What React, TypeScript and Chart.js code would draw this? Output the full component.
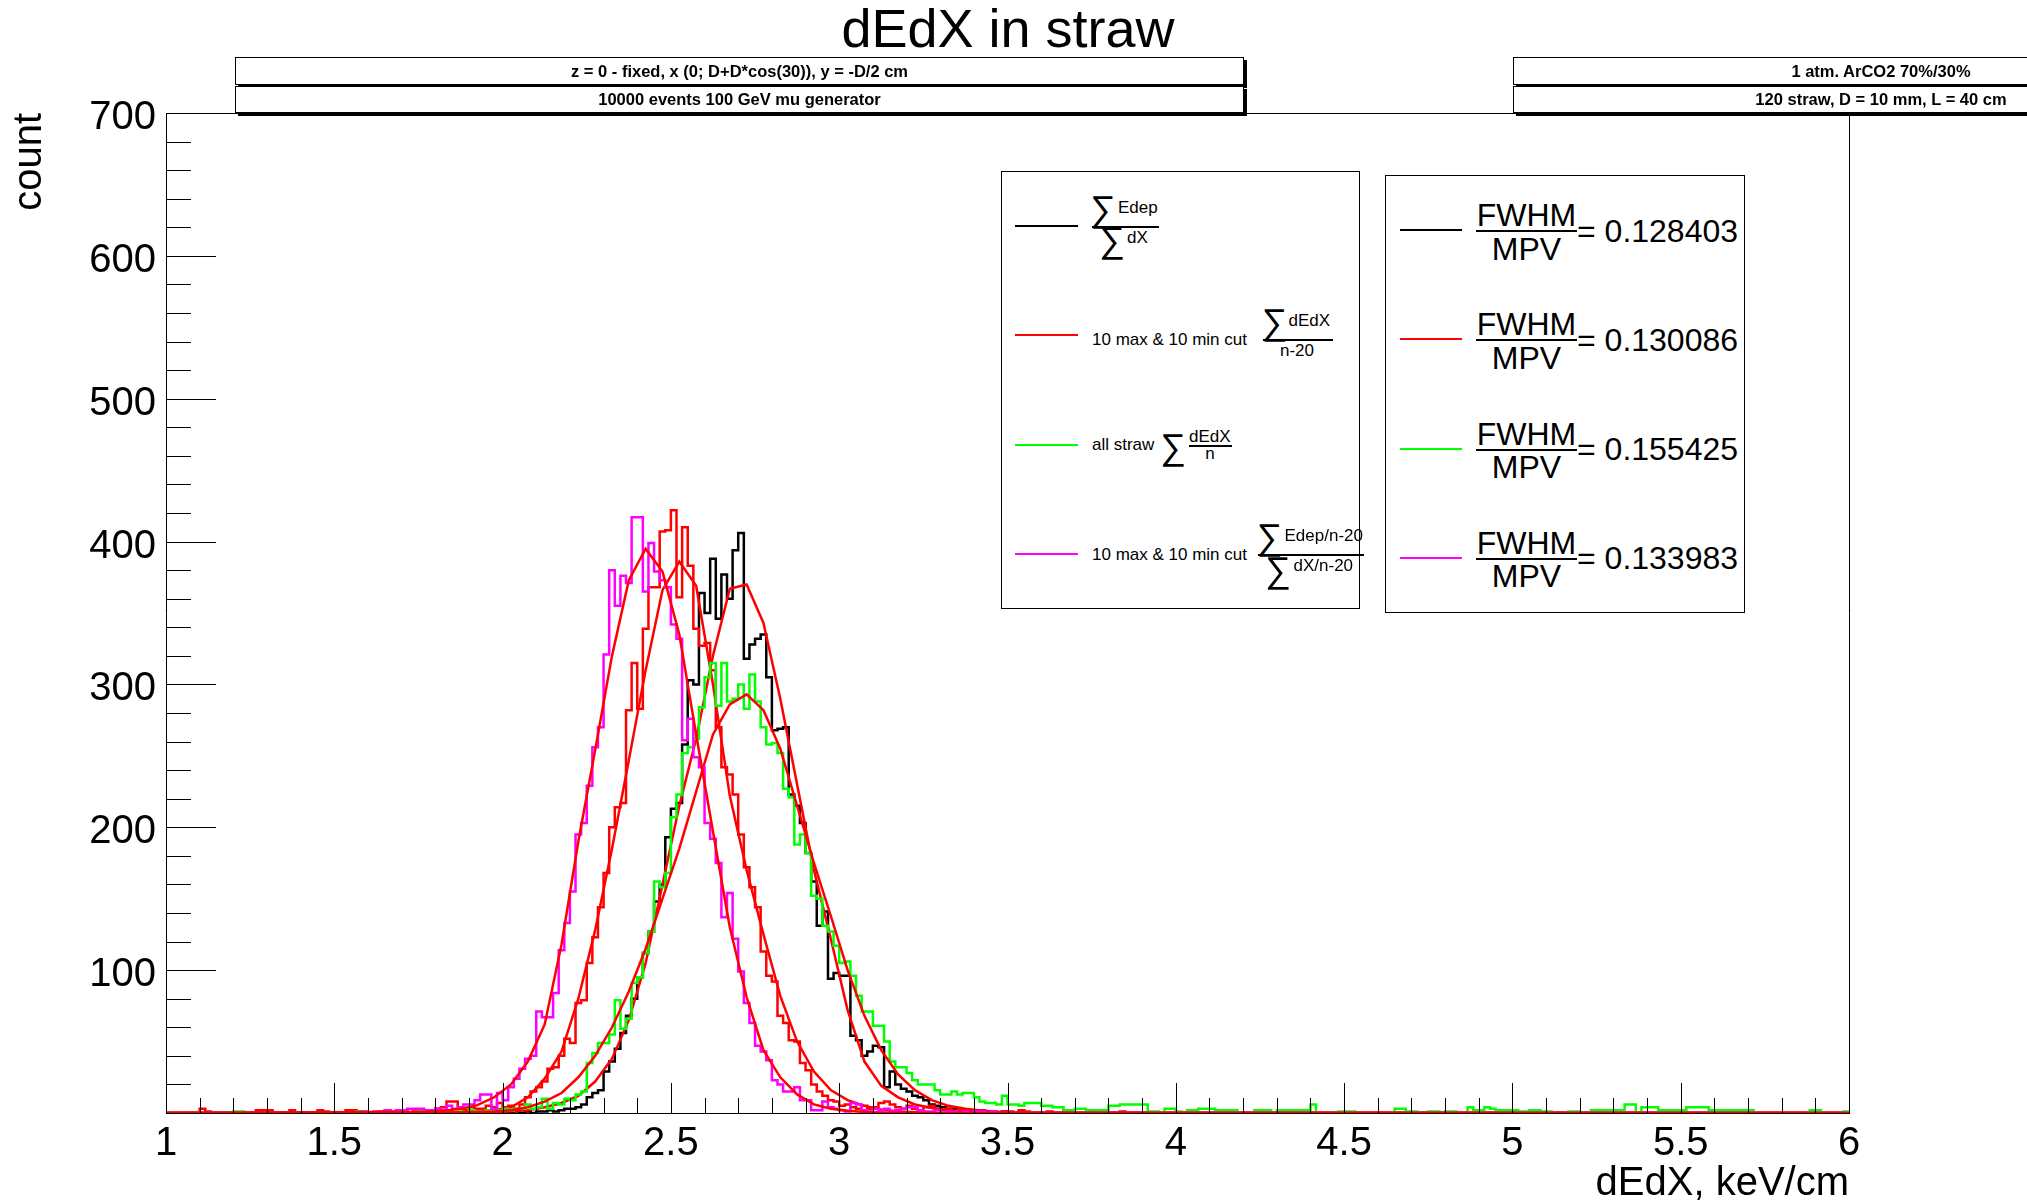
import React, { useEffect, useRef } from 'react';
import { Chart, registerables } from 'chart.js';

Chart.register(...registerables);

const FONT = "'Liberation Sans', Arial, Helvetica, sans-serif";
Chart.defaults.font.family = FONT;

// ---------- axes ----------
const X_MIN = 1;
const X_MAX = 6;
const Y_MIN = 0;
const Y_MAX = 700;
const BINS_PER_UNIT = 60; // histogram bin width = 1/60
const N_BINS = 300;

const TITLE = 'dEdX in straw';
const X_TITLE = 'dEdX, keV/cm';
const Y_TITLE = 'count';

// ---------- histograms (bin contents, first bin index given by *_START) ----------
const BLACK_START = 60;
const BLACK = [
  1, 0, 1, 0, 1, 0, 1, 1, 2, 1,
  2, 3, 3, 4, 6, 11, 14, 16, 29, 36,
  45, 56, 68, 80, 95, 112, 127, 148, 160, 193,
  213, 217, 258, 303, 300, 364, 350, 388, 346, 377,
  360, 394, 406, 318, 328, 332, 335, 305, 268, 269,
  270, 223, 215, 203, 182, 162, 131, 141, 94, 98,
  96, 96, 54, 51, 40, 43, 47, 46, 18, 29,
  20, 17, 15, 12, 11, 9, 6, 5, 4, 3,
  3, 2, 2, 1, 2, 1, 1, 1, 0, 1,
  0, 0, 1, 0, 0, 0, 0, 0, 0, 0, 2,
];

const RED_START = 5;
const RED = [
  0, 3, 1, 0, 0,
  0, 0, 0, 0, 0, 0, 2, 2, 2, 0,
  0, 0, 2, 0, 0, 0, 0, 2, 1, 0,
  0, 0, 2, 2, 1, 0, 0, 0, 1, 2,
  1, 0, 2, 0, 1, 2, 1, 2, 3, 4,
  8, 8, 3, 2, 4, 3, 3, 5, 4, 7,
  4, 5, 3, 6, 11, 15, 18, 22, 31, 32,
  40, 52, 49, 77, 79, 105, 123, 144, 168, 200,
  214, 217, 282, 315, 283, 339, 368, 368, 407, 408,
  422, 361, 410, 383, 339, 327, 329, 310, 270, 242,
  237, 223, 195, 172, 158, 144, 113, 96, 92, 68,
  63, 51, 50, 35, 30, 20, 15, 12, 9, 8,
  5, 6, 4, 3, 5, 3, 4, 7, 8, 6,
  4, 3, 5, 3, 2, 4, 5, 3, 2, 3,
  1, 2, 2, 1, 1, 2, 1, 0, 0, 1,
  1, 0, 2, 1, 0, 0, 0, 1, 0, 0,
  1, 0, 0, 0, 0, 1, 0, 0, 0, 0, 1,
];

const GREEN_START = 10;
const GREEN = [
  0, 0, 1, 1, 0, 0, 0, 0, 0, 0,
  0, 0, 0, 0, 0, 0, 0, 0, 0, 0,
  0, 0, 0, 0, 1, 0, 0, 0, 0, 0,
  0, 0, 0, 0, 0, 1, 0, 0, 1, 0,
  1, 0, 1, 0, 2, 1, 1, 2, 2, 2,
  3, 2, 3, 3, 6, 3, 4, 10, 3, 7,
  6, 10, 9, 13, 15, 35, 42, 49, 49, 55,
  79, 59, 66, 91, 95, 112, 127, 162, 158, 168,
  207, 223, 252, 256, 262, 284, 305, 315, 285, 315,
  288, 290, 300, 283, 307, 288, 270, 258, 259, 252,
  227, 221, 188, 195, 182, 152, 150, 131, 127, 117,
  105, 106, 96, 82, 71, 71, 61, 61, 50, 36,
  32, 32, 28, 23, 20, 20, 20, 16, 13, 13,
  15, 13, 14, 14, 11, 8, 7,
];
const GREEN_TAIL_START = 147;
const GREEN_TAIL = [
  7, 6, 12,
  6, 6, 5, 7, 7, 7, 5, 5, 4, 4,
  2, 2, 3, 3, 2, 2, 2, 2, 5, 5,
  6, 6, 6, 6, 6, 1, 1, 0, 3, 3,
  1, 0, 2, 2, 3, 3, 3, 2, 2, 2,
  2, 0, 0, 0, 2, 2, 2, 0, 2, 2,
  2, 2, 2, 2, 6, 0, 0, 0, 0, 1,
  1, 1, 0, 0, 0, 0, 0, 0, 0, 3,
  3, 1, 1, 0, 0, 1, 1, 0, 1, 1,
  0, 0, 4, 2, 2, 4, 3, 2, 2, 2,
  2, 1, 1, 2, 2, 1, 1, 0, 0, 0,
  1, 1, 0, 0, 2, 2, 2, 2, 2, 2,
  6, 6, 0, 4, 4, 4, 2, 2, 2, 2,
  2, 4, 4, 4, 4, 2, 2, 2, 2, 2,
  2, 2, 2, 0, 0, 0, 0, 0, 0, 0,
  0, 0, 0, 2, 2, 0, 0, 0, 0, 1,
];

const MAGENTA_START = 35;
const MAGENTA = [
  1, 0, 1, 1, 2, 1, 2,
  2, 3, 3, 3, 2, 2, 3, 2,
  5, 3, 4, 6, 6, 9, 13, 13, 3, 14,
  9, 18, 24, 31, 38, 40, 71, 67, 67, 84,
  114, 133, 155, 195, 203, 229, 256, 270, 321, 380,
  355, 376, 371, 417, 417, 365, 399, 379, 373, 368,
  342, 332, 261, 276, 249, 242, 203, 192, 175, 137,
  154, 122, 99, 77, 63, 47, 43, 37, 23, 20,
  15, 15, 18, 9, 9, 2, 2, 8, 4, 3,
  2, 1, 7, 6, 2, 1, 3, 2, 3, 1,
  2, 3, 4, 4, 2, 1, 1, 2, 0, 1,
  1, 0, 1, 0, 1, 1, 0, 1,
];

// ---------- fitted curves (sampled polyline points) ----------
const FIT_X = [
  1.0, 1.775, 1.825, 1.875, 1.925, 1.975, 2.025, 2.075, 2.125, 2.175,
  2.225, 2.275, 2.325, 2.375, 2.425, 2.475, 2.525, 2.575, 2.625, 2.675,
  2.725, 2.775, 2.825, 2.875, 2.925, 2.975, 3.025, 3.075, 3.125, 3.175,
  3.225, 3.275, 3.325, 3.375, 3.425, 3.475, 3.525, 6.0,
];
const FIT_BLACK = [
  0, 0, 0, 0.3, 0.5, 0.8, 1.2, 2, 4, 7,
  12, 22, 38, 65, 105, 160, 215, 262, 320, 367,
  370, 343, 290, 230, 170, 122, 72, 36, 19, 11,
  6, 3.5, 2, 1, 0.5, 0.2, 0, 0,
];
const FIT_RED = [
  0, 0, 0.3, 0.6, 1, 2, 4, 11, 24, 43,
  80, 128, 185, 247, 310, 366, 386, 369, 300, 222,
  170, 125, 82, 50, 29, 16, 9, 5, 2.5, 1,
  0.5, 0, 0, 0, 0, 0, 0, 0,
];
const FIT_GREEN = [
  0, 0.2, 0.3, 0.5, 0.7, 1, 2, 4, 8, 14,
  25, 40, 60, 85, 115, 150, 185, 225, 265, 286,
  293, 282, 255, 215, 175, 138, 100, 68, 44, 27,
  16, 9, 5, 3, 1.5, 0.8, 0.4, 0,
];
const FIT_MAGENTA = [
  0, 0.8, 1.5, 3, 5.5, 11, 20, 36, 62, 118,
  190, 254, 320, 373, 395, 379, 335, 265, 197, 130,
  81, 44, 25, 13, 6, 3, 1.5, 0.7, 0.3, 0,
  0, 0, 0, 0, 0, 0, 0, 0,
];

// ---------- legends / text ----------
const SERIES_COLORS = ['#000000', '#ff0000', '#00ff00', '#ff00ff'];
const FIT_COLOR = '#ff0000';
const FWHM_MPV = ['0.128403', '0.130086', '0.155425', '0.133983'];
const INFO_LEFT = ['z = 0 - fixed, x (0; D+D*cos(30)), y = -D/2 cm', '10000 events 100 GeV mu generator'];
const INFO_RIGHT = ['1 atm. ArCO2 70%/30%', '120 straw, D = 10 mm, L = 40 cm'];
const CUT_TEXT = '10 max & 10 min cut';
const SIGMA = '\u2211';

function histPoints(parts: Array<[number, number[]]>) {
  const vals: number[] = new Array(N_BINS).fill(0);
  for (const [start, arr] of parts) {
    arr.forEach((v, i) => {
      if (start + i < N_BINS) vals[start + i] = v;
    });
  }
  const pts = vals.map((v, k) => ({ x: X_MIN + k / BINS_PER_UNIT, y: v }));
  pts.push({ x: X_MAX, y: 0 });
  return pts;
}

function fitPoints(ys: number[]) {
  return FIT_X.map((x, i) => ({ x, y: ys[i] }));
}

const rootTicks = {
  id: 'rootTicks',
  afterDatasetsDraw(chart: any) {
    const { ctx, chartArea, scales } = chart;
    const xs = scales.x;
    const ys = scales.y;
    ctx.save();
    ctx.strokeStyle = '#000';
    ctx.lineWidth = 1;
    ctx.beginPath();
    const nx = Math.round((X_MAX - X_MIN) / 0.1);
    for (let i = 0; i <= nx; i++) {
      const v = X_MIN + i * 0.1;
      const px = Math.round(xs.getPixelForValue(v)) + 0.5;
      const len = i % 5 === 0 ? 30 : 15;
      ctx.moveTo(px, chartArea.bottom);
      ctx.lineTo(px, chartArea.bottom - len);
    }
    const ny = Math.round((Y_MAX - Y_MIN) / 20);
    for (let i = 0; i <= ny; i++) {
      const v = Y_MIN + i * 20;
      const py = Math.round(ys.getPixelForValue(v)) + 0.5;
      const len = i % 5 === 0 ? 50 : 25;
      ctx.moveTo(chartArea.left, py);
      ctx.lineTo(chartArea.left + len, py);
    }
    ctx.stroke();
    ctx.restore();
  },
};

function Txt(p: { x: number; y: number; size: number; text: string; align?: 'left' | 'center' | 'right'; bold?: boolean; color?: string }) {
  const shift = p.align === 'center' ? '-50%' : p.align === 'right' ? '-100%' : '0';
  return (
    <div
      style={{
        position: 'absolute',
        left: p.x,
        top: p.y - p.size / 2,
        height: p.size,
        lineHeight: `${p.size}px`,
        fontSize: p.size,
        fontFamily: FONT,
        fontWeight: p.bold ? 700 : 400,
        color: p.color || '#000',
        whiteSpace: 'nowrap',
        transform: `translateX(${shift})`,
      }}
    >
      {p.text}
    </div>
  );
}

function HLine(p: { x: number; y: number; w: number; t?: number; color?: string }) {
  const t = p.t ?? 2;
  return <div style={{ position: 'absolute', left: p.x, top: p.y - t / 2, width: p.w, height: t, background: p.color || '#000' }} />;
}

function Box(p: { x: number; y: number; w: number; h: number; shadow?: boolean }) {
  return (
    <div
      style={{
        position: 'absolute',
        left: p.x,
        top: p.y,
        width: p.w,
        height: p.h,
        boxSizing: 'border-box',
        border: '1px solid #000',
        background: '#fff',
        boxShadow: p.shadow ? '3px 3px 0 #000' : 'none',
      }}
    />
  );
}

const L1_Y = [226, 335, 444.5, 554];
const L2_Y = [230.5, 339.7, 449, 558.2];
const SIG = 36;

export default function App() {
  const canvasRef = useRef<HTMLCanvasElement | null>(null);

  useEffect(() => {
    if (!canvasRef.current) return;
    const hist = (pts: any, color: string, order: number) => ({
      data: pts,
      borderColor: color,
      borderWidth: 2.5,
      pointRadius: 0,
      fill: false,
      stepped: true,
      tension: 0,
      order,
    });
    const fit = (pts: any, order: number) => ({
      data: pts,
      borderColor: FIT_COLOR,
      borderWidth: 2.5,
      pointRadius: 0,
      fill: false,
      tension: 0,
      order,
    });
    const chart = new Chart(canvasRef.current, {
      type: 'line',
      data: {
        datasets: [
          hist(histPoints([[BLACK_START, BLACK]]), SERIES_COLORS[0], 8),
          fit(fitPoints(FIT_BLACK), 7),
          hist(histPoints([[RED_START, RED]]), SERIES_COLORS[1], 6),
          fit(fitPoints(FIT_RED), 5),
          hist(histPoints([[GREEN_START, GREEN], [GREEN_TAIL_START, GREEN_TAIL]]), SERIES_COLORS[2], 4),
          fit(fitPoints(FIT_GREEN), 3),
          hist(histPoints([[MAGENTA_START, MAGENTA]]), SERIES_COLORS[3], 2),
          fit(fitPoints(FIT_MAGENTA), 1),
        ] as any,
      },
      options: {
        responsive: false,
        maintainAspectRatio: false,
        animation: false,
        devicePixelRatio: 1,
        events: [],
        layout: { padding: { left: 0, right: 11, top: 0, bottom: 0 } },
        plugins: {
          legend: { display: false },
          tooltip: { enabled: false },
          title: {
            display: true,
            text: TITLE,
            color: '#000',
            font: { size: 54, weight: 'normal', lineHeight: 1, family: FONT },
            padding: { top: 5.5, bottom: 0 },
          },
        },
        scales: {
          x: {
            type: 'linear',
            position: 'bottom',
            min: X_MIN,
            max: X_MAX,
            ticks: {
              stepSize: 0.5,
              autoSkip: false,
              maxRotation: 0,
              minRotation: 0,
              padding: 7,
              color: '#000',
              font: { size: 40, family: FONT },
              callback: (v: any) => String(v),
            },
            grid: { display: false, drawTicks: false },
            border: { display: true, color: '#000', width: 1 },
            title: {
              display: true,
              text: X_TITLE,
              align: 'end',
              color: '#000',
              font: { size: 40, lineHeight: 0.85, family: FONT },
              padding: { top: 0, bottom: 1 },
            },
            afterFit: (s: any) => {
              s.height = 89;
            },
          },
          y: {
            type: 'linear',
            position: 'left',
            min: Y_MIN,
            max: Y_MAX,
            ticks: {
              stepSize: 100,
              padding: 10,
              labelOffset: 5,
              color: '#000',
              font: { size: 40, family: FONT },
              callback: (v: any) => (v === 0 ? '' : String(v)),
            },
            grid: { display: false, drawTicks: false },
            border: { display: true, color: '#000', width: 1 },
            title: {
              display: true,
              text: Y_TITLE,
              align: 'end',
              color: '#000',
              font: { size: 40, lineHeight: 1, family: FONT },
              padding: { top: 10, bottom: 0 },
            },
            afterFit: (s: any) => {
              s.width = 166;
            },
          },
          x2: {
            type: 'linear',
            position: 'top',
            display: true,
            min: X_MIN,
            max: X_MAX,
            ticks: { display: false },
            grid: { display: false, drawTicks: false },
            border: { display: true, color: '#000', width: 1 },
            afterFit: (s: any) => {
              s.height = 53.5;
            },
          },
          y2: {
            type: 'linear',
            position: 'right',
            display: true,
            min: Y_MIN,
            max: Y_MAX,
            ticks: { display: false },
            grid: { display: false, drawTicks: false },
            border: { display: true, color: '#000', width: 1 },
            afterFit: (s: any) => {
              s.width = 167;
            },
          },
        },
      } as any,
      plugins: [rootTicks],
    });
    return () => chart.destroy();
  }, []);

  return (
    <div style={{ position: 'fixed', left: 0, top: 0, width: 2027, height: 1202, overflow: 'hidden', background: '#fff' }}>
      <canvas ref={canvasRef} width={2027} height={1202} style={{ position: 'absolute', left: 0, top: 0, width: 2027, height: 1202 }} />

      {/* info boxes */}
      <Box x={235} y={57} w={1009} h={28} shadow />
      <Box x={235} y={86} w={1009} h={27} shadow />
      <Txt x={739.5} y={71.5} size={16.5} bold align="center" text={INFO_LEFT[0]} />
      <Txt x={739.5} y={99.5} size={16.5} bold align="center" text={INFO_LEFT[1]} />
      <Box x={1513} y={57} w={736} h={28} shadow />
      <Box x={1513} y={86} w={736} h={27} shadow />
      <Txt x={1881} y={71.5} size={16.5} bold align="center" text={INFO_RIGHT[0]} />
      <Txt x={1881} y={99.5} size={16.5} bold align="center" text={INFO_RIGHT[1]} />

      {/* legend 1: series definitions */}
      <Box x={1001} y={171} w={359} h={438} />
      {L1_Y.map((y, i) => (
        <HLine key={'l1' + i} x={1015} y={y} w={63} color={SERIES_COLORS[i]} />
      ))}
      {/* entry 1 */}
      <Txt x={1090} y={209} size={SIG} text={SIGMA} />
      <Txt x={1118} y={207} size={17} text="Edep" />
      <HLine x={1092} y={227} w={67} />
      <Txt x={1099} y={240} size={SIG} text={SIGMA} />
      <Txt x={1127} y={237.5} size={17} text="dX" />
      {/* entry 2 */}
      <Txt x={1092} y={339} size={17} text={CUT_TEXT} />
      <Txt x={1261.5} y={322} size={SIG} text={SIGMA} />
      <Txt x={1288.5} y={320.5} size={17} text="dEdX" />
      <HLine x={1263} y={340} w={70} />
      <Txt x={1297} y={350.5} size={17} align="center" text="n-20" />
      {/* entry 3 */}
      <Txt x={1092} y={444.5} size={17} text="all straw" />
      <Txt x={1160} y={447} size={SIG} text={SIGMA} />
      <Txt x={1189} y={436.5} size={17} text="dEdX" />
      <HLine x={1189} y={445.7} w={43} />
      <Txt x={1210} y={453} size={17} align="center" text="n" />
      {/* entry 4 */}
      <Txt x={1092} y={554} size={17} text={CUT_TEXT} />
      <Txt x={1256.5} y={536.5} size={SIG} text={SIGMA} />
      <Txt x={1284.5} y={535.5} size={17} text="Edep/n-20" />
      <HLine x={1258} y={555} w={106} />
      <Txt x={1265} y={569.5} size={SIG} text={SIGMA} />
      <Txt x={1293.5} y={565} size={17} text="dX/n-20" />

      {/* legend 2: FWHM / MPV */}
      <Box x={1385} y={175} w={360} h={438} />
      {L2_Y.map((y, i) => (
        <React.Fragment key={'l2' + i}>
          <HLine x={1400} y={y - 0.5} w={62} color={SERIES_COLORS[i]} />
          <Txt x={1526.5} y={y - 15.5} size={32} align="center" text="FWHM" />
          <HLine x={1476} y={y + 0.5} w={101} />
          <Txt x={1526.5} y={y + 18} size={32} align="center" text="MPV" />
          <Txt x={1577} y={y} size={32} text={'= ' + FWHM_MPV[i]} />
        </React.Fragment>
      ))}
    </div>
  );
}
